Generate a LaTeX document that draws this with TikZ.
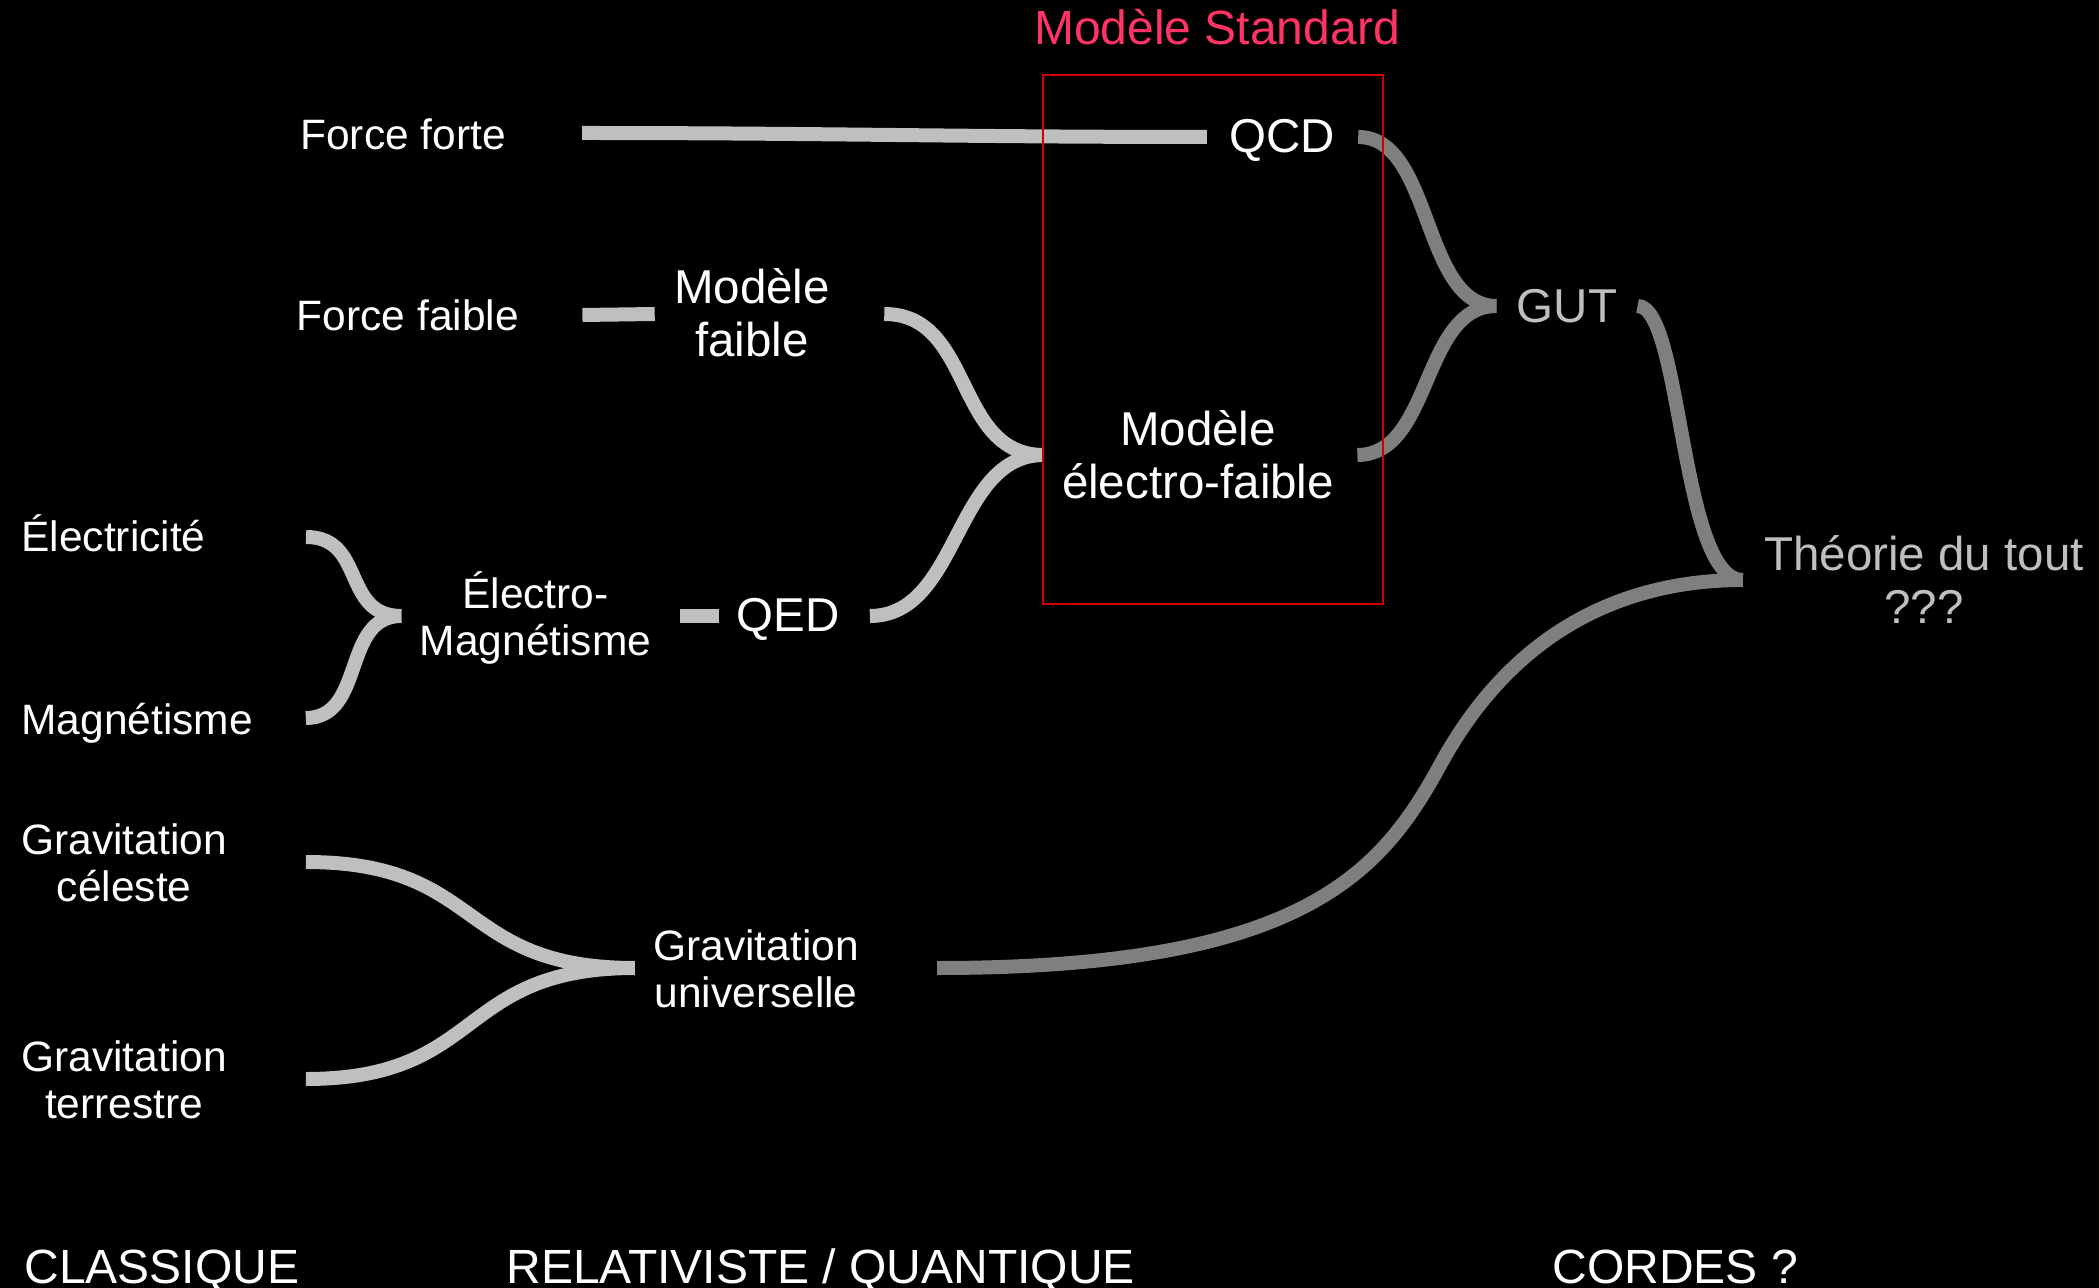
\documentclass[tikz,border=0pt]{standalone}
\usepackage{fontspec}
\setmainfont{Liberation Sans}
\usetikzlibrary{calc}
\definecolor{lg}{RGB}{191,191,191}
\definecolor{dg}{RGB}{127,127,127}
\definecolor{msred}{RGB}{255,51,102}
\definecolor{boxred}{RGB}{210,0,0}
\begin{document}
\begin{tikzpicture}[x=0.5pt,y=-0.5pt,
  lbl/.style={text=white, inner sep=0pt, align=center, font=\fontsize{21.25}{23.5}\selectfont},
  big/.style={text=white, inner sep=0pt, align=center, font=\fontsize{23.75}{26.25}\selectfont},
  era/.style={text=white, inner sep=0pt, anchor=base west, font=\fontsize{24}{26}\selectfont},
  light/.style={line width=7pt, draw=lg},
  dark/.style={line width=7pt, draw=dg},
  stdbox/.style={draw=boxred, line width=0.75pt},
]
\useasboundingbox (0,0) rectangle (2099,1288);
\fill[black] (0,0) rectangle (2099,1288);

% nodes (base anchor = baseline of the last line)
\node[lbl, anchor=base] (ff) at (403,150) {Force forte};
\node[lbl, anchor=base] (fw) at (408,331) {Force faible};
\node[lbl, anchor=base west] (el) at (21,552) {Électricité};
\node[lbl, anchor=base west] (mg) at (21,734) {Magnétisme};
\node[lbl, anchor=base west] (gc) at (21,901) {Gravitation\\céleste};
\node[lbl, anchor=base west] (gt) at (21,1118) {Gravitation\\terrestre};
\node[lbl, anchor=base] (em) at (535.5,655) {Électro-\\Magnétisme};
\node[big, anchor=base] (qed) at (788,632) {QED};
\node[big, anchor=base] (mf) at (752,356.5) {Modèle\\faible};
\node[big, anchor=base] (ew) at (1198,498.5) {Modèle\\électro-faible};
\node[big, anchor=base] (qcd) at (1282,153) {QCD};
\node[big, anchor=base, text=lg] (gut) at (1567,323) {GUT};
\node[big, anchor=base, text=lg] (toe) at (1924,623.5) {Théorie du tout\\???};
\node[lbl, anchor=base] (gu) at (756,1007) {Gravitation\\universelle};
\node[anchor=base, inner sep=0pt, text=msred, font=\fontsize{24}{26}\selectfont] (ms) at (1217,45) {Modèle Standard};
\node[era] (c1) at (24,1283) {CLASSIQUE};
\node[era] (c2) at (506,1283) {RELATIVISTE / QUANTIQUE};
\node[era] (c3) at (1552,1283) {CORDES ?};

% light connectors
\draw[light] ($(ff.base east)+(76,-17)$) to[out=0,in=180] ($(qcd.base west)+(-22,-16)$);
\draw[light] ($(fw.base east)+(63,-16)$) -- ($(mf.base west)+(-19,-42.5)$);
\draw[light] ($(el.base east)+(100,-15)$) .. controls +(60,0) and +(-60,0) .. ($(em.base west)+(-18,-39)$);
\draw[light] ($(mg.base east)+(52.5,-16)$) .. controls +(60,0) and +(-60,0) .. ($(em.base west)+(-18,-39)$);
\draw[light] ($(em.base east)+(28,-39)$) -- ($(qed.base west)+(-17,-16)$);
\draw[light] ($(qed.base east)+(30,-16)$) .. controls +(90,0) and +(-90,0) .. ($(ew.base west)+(-18,-43.5)$);
\draw[light] ($(mf.base east)+(54,-42.5)$) .. controls +(90,0) and +(-90,0) .. ($(ew.base west)+(-18,-43.5)$);
\draw[light] ($(gc.base east)+(78.5,-39)$) .. controls +(180,0) and +(-180,0) .. ($(gu.base west)+(-18,-39)$);
\draw[light] ($(gt.base east)+(78.5,-39)$) .. controls +(180,0) and +(-180,0) .. ($(gu.base west)+(-18,-39)$);

% dark connectors
\draw[dark] ($(qcd.base east)+(23,-16)$) .. controls +(75,0) and +(-75,0) .. ($(gut.base west)+(-20,-17)$);
\draw[dark] ($(ew.base east)+(23,-43.5)$) .. controls +(75,0) and +(-75,0) .. ($(gut.base west)+(-20,-17)$);
\draw[dark] ($(gut.base east)+(20,-17)$) .. controls +(45,0) and +(-63,0) .. ($(toe.base west)+(-21,-43.5)$);
\draw[dark] ($(gu.base east)+(78,-39)$) .. controls +(363,0) and +(-60,110) .. ($(gu.base east)+(581,-242)$) .. controls +(80,-147) and +(-103,0) .. ($(toe.base west)+(-21,-43.5)$);

% standard model box
\draw[stdbox] (1043,75) rectangle (1383,604);
\end{tikzpicture}
\end{document}
